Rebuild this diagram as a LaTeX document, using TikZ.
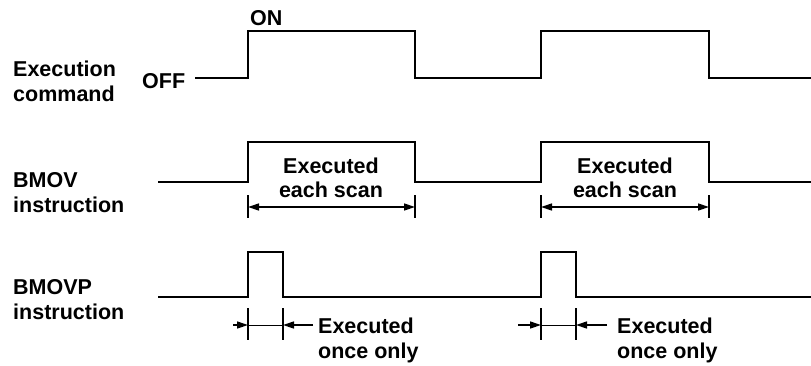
\documentclass[tikz,border=0pt]{standalone}
\usepackage{fontspec}
\setmainfont{Liberation Sans}
\usetikzlibrary{arrows.meta}
\begin{document}
\begin{tikzpicture}[x=1pt,y=-1pt,
  lbl/.style={anchor=base west,inner sep=0pt,font=\fontsize{21.5}{25}\selectfont\bfseries},
  lblc/.style={anchor=base,inner sep=0pt,font=\fontsize{21.5}{25}\selectfont\bfseries},
  wave/.style={line width=1.8pt,line join=miter},
  tick/.style={line width=1.4pt},
  dim/.style={line width=1.4pt,-{Triangle[length=11pt,width=7pt]}},
  dimboth/.style={line width=1.4pt,{Triangle[length=11pt,width=7pt]}-{Triangle[length=11pt,width=7pt]}},
  thinl/.style={line width=0.8pt}]
\useasboundingbox (0,0) rectangle (811,365);
% left labels
\node[lbl] (l1a) at (13,76) {Execution};
\node[lbl] (l1b) at (13,101) {command};
\node[lbl] (l2a) at (13,187) {BMOV};
\node[lbl] (l2b) at (13,212) {instruction};
\node[lbl] (l3a) at (13,294) {BMOVP};
\node[lbl] (l3b) at (13,319) {instruction};
\node[lbl] (on) at (250,25) {ON};
\node[lbl] (off) at (142,88) {OFF};
% waveforms
\draw[wave] (195,78) -- (248,78) -- (248,31) -- (415,31) -- (415,78) -- (541,78) -- (541,31) -- (709,31) -- (709,78) -- (811,78);
\draw[wave] (158,182) -- (248,182) -- (248,142) -- (415,142) -- (415,182) -- (541,182) -- (541,142) -- (709,142) -- (709,182) -- (811,182);
\draw[wave] (158,297) -- (248,297) -- (248,252) -- (283,252) -- (283,297) -- (541,297) -- (541,252) -- (576,252) -- (576,297) -- (811,297);
% BMOV dimensions
\coordinate (a1t) at (248,195); \coordinate (a1b) at (248,218);
\coordinate (a2t) at (415,195); \coordinate (a2b) at (415,218);
\coordinate (b1t) at (541,195); \coordinate (b1b) at (541,218);
\coordinate (b2t) at (709,195); \coordinate (b2b) at (709,218);
\draw[tick] (a1t) -- (a1b); \draw[tick] (a2t) -- (a2b);
\draw[tick] (b1t) -- (b1b); \draw[tick] (b2t) -- (b2b);
\coordinate (a1m) at (248,207); \coordinate (a2m) at (415,207);
\coordinate (b1m) at (541,207); \coordinate (b2m) at (709,207);
\draw[dimboth] (a1m) -- (a2m);
\draw[dimboth] (b1m) -- (b2m);
\node[lblc] (ea1) at (331,173) {Executed};
\node[lblc] (ea2) at (331,197) {each scan};
\node[lblc] (eb1) at (625,173) {Executed};
\node[lblc] (eb2) at (625,197) {each scan};
% BMOVP dimensions
\coordinate (c1t) at (248,308); \coordinate (c1b) at (248,340);
\coordinate (c2t) at (283,308); \coordinate (c2b) at (283,340);
\coordinate (d1t) at (541,308); \coordinate (d1b) at (541,340);
\coordinate (d2t) at (576,308); \coordinate (d2b) at (576,340);
\draw[tick] (c1t) -- (c1b); \draw[tick] (c2t) -- (c2b);
\draw[tick] (d1t) -- (d1b); \draw[tick] (d2t) -- (d2b);
\coordinate (c0) at (233,325); \coordinate (c1m) at (248,325);
\coordinate (c2m) at (283,325); \coordinate (c3) at (313,325);
\coordinate (d0) at (518,325); \coordinate (d1m) at (541,325);
\coordinate (d2m) at (576,325); \coordinate (d3) at (607,325);
\draw[dim] (c0) -- (c1m); \draw[dim] (c3) -- (c2m); \draw[thinl] (c1m) -- (c2m);
\draw[dim] (d0) -- (d1m); \draw[dim] (d3) -- (d2m); \draw[thinl] (d1m) -- (d2m);
\node[lbl] (oa1) at (318,333) {Executed};
\node[lbl] (oa2) at (318,358) {once only};
\node[lbl] (ob1) at (617,333) {Executed};
\node[lbl] (ob2) at (617,358) {once only};
\end{tikzpicture}
\end{document}
